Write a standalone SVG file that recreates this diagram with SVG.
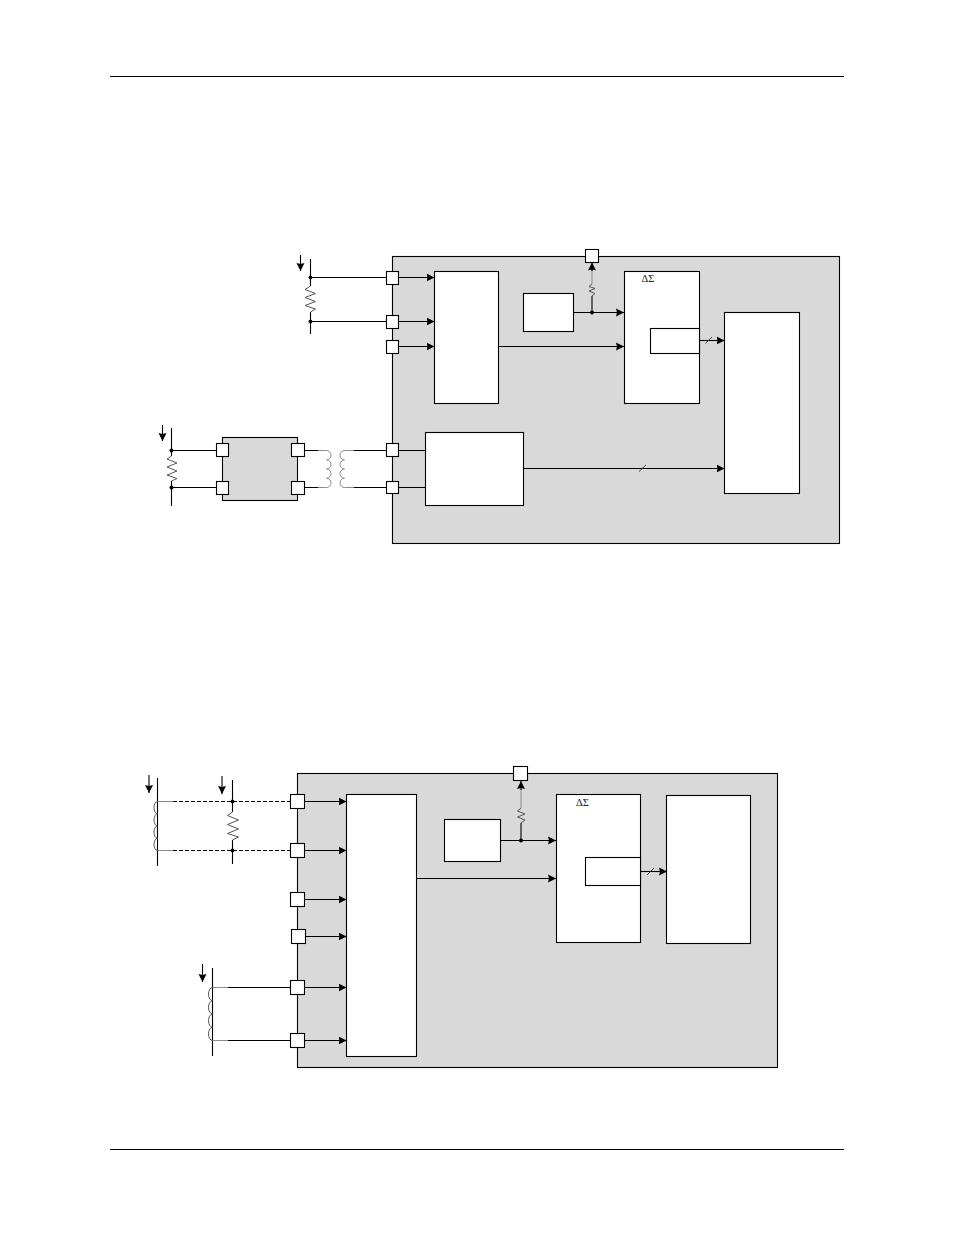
<svg xmlns="http://www.w3.org/2000/svg" width="954" height="1235" viewBox="0 0 954 1235">
<style>
.b{fill:#fff;stroke:#000;stroke-width:1.1}
.g{fill:#d9d9d9;stroke:#000;stroke-width:1.1}
.w{fill:none;stroke:#000;stroke-width:1.1}
.a{fill:none;stroke:#000;stroke-width:1.1;marker-end:url(#ah)}
.d{fill:none;stroke:#000;stroke-width:1.1;stroke-dasharray:4 2}
.y{fill:none;stroke:#8c8c8c;stroke-width:1}
.r{fill:none;stroke:#555;stroke-width:1}
.s{fill:none;stroke:#333;stroke-width:.9}
.t{font-family:"Liberation Serif",serif;font-size:10.5px;fill:#222}
</style>
<defs>
<marker id="ah" markerUnits="userSpaceOnUse" markerWidth="10" markerHeight="10" refX="8" refY="5" orient="auto"><path d="M0 1L8 5L0 9L1 5Z" fill="#000"/></marker>
<circle id="dot" r="2" fill="#000"/>
</defs>
<rect width="954" height="1235" fill="#fff"/>
<g id="page-rules"><path class="w" d="M110 76.5H844M110 1149.5H844"/></g>
<g id="panel-top"><rect class="g" x="392.5" y="256.5" width="447" height="287"/></g>
<g id="panel-bottom"><rect class="g" x="297.5" y="773.5" width="480" height="294"/></g>
<g id="isolator"><rect class="g" x="222.5" y="437.5" width="75" height="63"/></g>
<g id="connectors">
<path class="a" d="M300.5 255V271"/>
<path class="w" d="M310.5 259V286M310.5 312V334"/>
<path class="r" d="M310.5 286L305 289.5L315.5 293.5L305 297.5L315.5 301.5L305 305.5L315.5 309L310.5 312"/>
<path class="w" d="M310 277.5H392M310 321.5H392"/>
<path class="a" d="M398 277.5H434.5"/><path class="a" d="M398 321.5H434.5"/><path class="a" d="M398 346.5H434.5"/>
<path class="a" d="M498.5 346.5H624"/>
<path class="a" d="M162.5 425V441"/>
<path class="w" d="M171.5 428V456M171.5 481V506"/>
<path class="r" d="M171.5 456L167 459L177 463L167 467L177 471L167 475L177 478.5L171.5 481"/>
<path class="w" d="M171.5 450.5H217M171.5 487.5H217"/>
<path class="w" d="M304 450.5H318M304 487.5H318M354 450.5H387M354 487.5H387"/>
<path class="y" d="M318 450.5H326.5a4.5 4.62 0 0 1 0 9.25a4.5 4.62 0 0 1 0 9.25a4.5 4.62 0 0 1 0 9.25a4.5 4.62 0 0 1 0 9.25H318"/>
<path class="y" d="M354 450.5H344.5a4.5 4.62 0 0 0 0 9.25a4.5 4.62 0 0 0 0 9.25a4.5 4.62 0 0 0 0 9.25a4.5 4.62 0 0 0 0 9.25H354"/>
<path class="w" d="M398 450.5H426M398 487.5H426"/>
<path class="a" d="M523.5 468.5H724.5"/><path class="s" d="M639 471.5L646 465"/>
<path class="y" d="M592 268V284"/>
<path class="a" d="M592 271V262.5"/>
<path class="r" d="M592 284L589 286.5L595 288.5L589 291L595 293.5L592 296"/>
<path class="w" d="M592 296V312"/>
<path class="a" d="M574 312.5H624"/>
<path class="a" d="M699.5 340.5H724.5"/><path class="s" d="M705.5 343.5L712 337"/>
<path class="a" d="M149 775V793"/><path class="a" d="M222 776V794"/><path class="a" d="M202.5 964V982"/>
<path class="w" d="M157.5 778V866M232.5 780V812M232.5 840V864M212.5 968V1056"/>
<path class="r" d="M157.5 801.5a3.5 6.12 0 0 0 0 12.25a3.5 6.12 0 0 0 0 12.25a3.5 6.12 0 0 0 0 12.25a3.5 6.12 0 0 0 0 12.25"/>
<path class="y" d="M157.5 801.5H173M157.5 850.5H173"/>
<path class="d" d="M173 801.5H291M173 850.5H291"/>
<path class="r" d="M232.5 812L227.5 815.5L238.5 820L227.5 824.5L238.5 829L227.5 833.5L238.5 837L232.5 840"/>
<path class="r" d="M212.5 987.5a4 6.62 0 0 0 0 13.25a4 6.62 0 0 0 0 13.25a4 6.62 0 0 0 0 13.25a4 6.62 0 0 0 0 13.25"/>
<path class="y" d="M212.5 987.5H228M212.5 1040.5H228"/>
<path class="w" d="M228 987.5H291M228 1040.5H291"/>
<path class="a" d="M304 801.5H346.5"/><path class="a" d="M304 850.5H346.5"/><path class="a" d="M304 899.5H346.5"/><path class="a" d="M305 936.5H346.5"/><path class="a" d="M304 987.5H346.5"/><path class="a" d="M304 1040.5H346.5"/>
<path class="a" d="M416.5 878.5H556"/>
<path class="y" d="M521 786V808"/>
<path class="a" d="M521 790V781"/>
<path class="r" d="M521 808L517.5 811L525 814L517.5 817L525 820L521 823"/>
<path class="w" d="M521 823V840"/>
<path class="a" d="M500.5 840.5H556"/>
<path class="a" d="M640.5 871.5H667"/><path class="s" d="M647 875L654 868"/>
</g>
<g id="dots">
<use href="#dot" x="310.5" y="277.5"/><use href="#dot" x="310.5" y="321.5"/>
<use href="#dot" x="171.5" y="450.5"/><use href="#dot" x="171.5" y="487.5"/>
<use href="#dot" x="592" y="312.5"/>
<use href="#dot" x="232.5" y="801.5"/><use href="#dot" x="232.5" y="850.5"/>
<use href="#dot" x="521" y="840.5"/>
</g>
<g id="mux-top"><rect class="b" x="434.5" y="271.5" width="64" height="132"/></g>
<g id="ref-top"><rect class="b" x="523.5" y="293.5" width="50" height="38"/></g>
<g id="adc-top"><rect class="b" x="624.5" y="271.5" width="75" height="132"/><text class="t" x="641.5" y="281.5">ΔΣ</text></g>
<g id="adc-inner-top"><rect class="b" x="650.5" y="328.5" width="49" height="25"/></g>
<g id="dsp-top"><rect class="b" x="724.5" y="312.5" width="75" height="181"/></g>
<g id="gate-top"><rect class="b" x="425.5" y="432.5" width="98" height="73"/></g>
<g id="pins-top">
<rect class="b" x="386.5" y="271.5" width="12" height="13"/>
<rect class="b" x="386.5" y="315.5" width="12" height="13"/>
<rect class="b" x="386.5" y="340.5" width="12" height="13"/>
<rect class="b" x="386.5" y="443.5" width="12" height="13"/>
<rect class="b" x="386.5" y="481.5" width="12" height="12"/>
<rect class="b" x="216.5" y="443.5" width="12" height="13"/>
<rect class="b" x="216.5" y="481.5" width="12" height="13"/>
<rect class="b" x="291.5" y="443.5" width="13" height="13"/>
<rect class="b" x="291.5" y="481.5" width="13" height="13"/>
<rect class="b" x="585.5" y="249.5" width="13" height="13"/>
</g>
<g id="mux-bottom"><rect class="b" x="346.5" y="794.5" width="70" height="262"/></g>
<g id="ref-bottom"><rect class="b" x="444.5" y="819.5" width="56" height="42"/></g>
<g id="adc-bottom"><rect class="b" x="556.5" y="794.5" width="84" height="148"/><text class="t" x="576" y="805.5">ΔΣ</text></g>
<g id="adc-inner-bottom"><rect class="b" x="585.5" y="857.5" width="55" height="28"/></g>
<g id="dsp-bottom"><rect class="b" x="666.5" y="795.5" width="84" height="148"/></g>
<g id="pins-bottom">
<rect class="b" x="290.5" y="794.5" width="14" height="14"/>
<rect class="b" x="290.5" y="843.5" width="14" height="14"/>
<rect class="b" x="290.5" y="892.5" width="14" height="14"/>
<rect class="b" x="291.5" y="929.5" width="14" height="14"/>
<rect class="b" x="290.5" y="980.5" width="14" height="14"/>
<rect class="b" x="290.5" y="1033.5" width="14" height="14"/>
<rect class="b" x="513.5" y="766.5" width="14" height="14"/>
</g>
</svg>
